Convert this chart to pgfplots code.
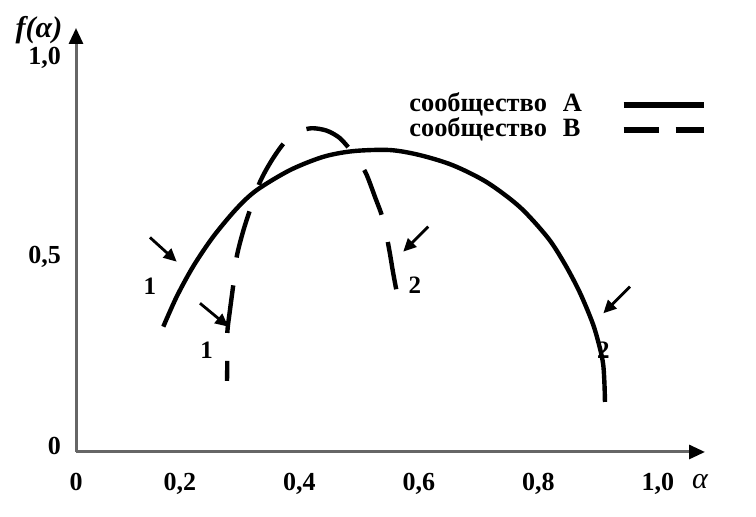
\documentclass[border=0pt]{standalone}
\usepackage{fontspec}
\setmainfont{Liberation Serif}
\usepackage{pgfplots}
\pgfplotsset{compat=1.18}
\usetikzlibrary{arrows.meta}

\begin{document}
\begin{tikzpicture}
\path[use as bounding box] (0,0) rectangle (378pt,258.5pt);
\begin{axis}[
  at={(38pt,32.5pt)}, anchor=south west,
  scale only axis, width=314.5pt, height=212pt,
  xmin=0.026, xmax=1.0787, ymin=0, ymax=1.087,
  axis lines=left,
  axis line style={black!60, line width=1.5pt, -{Triangle[length=8pt,width=7pt,color=black]}},
  major tick length=0pt,
  xtick={0.026,0.2,0.4,0.6,0.8,1.0},
  xticklabels={0,{0,2},{0,4},{0,6},{0,8},{1,0}},
  ytick={0.015,0.5,1.01},
  yticklabels={0,{0,5},{1,0}},
  tick label style={font=\fontsize{13}{15}\selectfont\bfseries},
  xticklabel style={yshift=-7pt},
  yticklabel style={xshift=-4pt},
  clip=false,
  legend plot pos=right,
  legend cell align=left,
  legend image code/.code={\draw[#1] (0pt,0pt) -- (40pt,0pt);},
  legend style={at={(axis cs:0.5732,0.932)}, anchor=north west, draw=none, fill=none,
    font=\fontsize{13.2}{15}\selectfont\bfseries,
    nodes={inner sep=0pt, text height=9.3pt, text depth=3pt},
    row sep=0pt, column sep=19.5pt},
]
% community A
\addplot[line width=2.2pt, smooth, forget plot] coordinates {
(0.1721,0.3213) (0.1945,0.3982) (0.2223,0.4762) (0.2557,0.5521) (0.2949,0.6241)
(0.3284,0.6713) (0.3841,0.7226) (0.4398,0.7567) (0.4900,0.7713) (0.5515,0.7741)
(0.6017,0.7610) (0.6569,0.7349) (0.7138,0.6913) (0.7690,0.6277) (0.8159,0.5487)
(0.8444,0.4810) (0.8695,0.4079) (0.8912,0.3279) (0.9029,0.2656) (0.9084,0.2233)
(0.9105,0.1718) (0.9113,0.1282)
};
% community B
\addplot[line width=2.2pt, smooth, dash pattern=on 24pt off 14pt, dash phase=14pt, forget plot] coordinates {
(0.2787,0.1821) (0.2792,0.2282) (0.2792,0.3051) (0.2837,0.3641) (0.2892,0.4282)
(0.2949,0.5000) (0.3054,0.5641) (0.3172,0.6205) (0.3339,0.6923) (0.3540,0.7487)
(0.3757,0.7949) (0.3975,0.8205) (0.4204,0.8300) (0.4456,0.8238) (0.4678,0.8044)
(0.4879,0.7692) (0.5013,0.7410) (0.5125,0.7103) (0.5264,0.6538) (0.5402,0.5949)
(0.5503,0.5179) (0.5565,0.4615) (0.5637,0.4026)
};
\addlegendimage{line width=2.8pt}
\addlegendentry{сообщество\hspace{0.6em}A}
\addlegendimage{line width=2.8pt, dash pattern=on 17.5pt off 8.5pt}
\addlegendentry{сообщество\hspace{0.6em}B}
% annotations
\begin{scope}[line width=1.4pt, -{Triangle[length=6.5pt,width=6pt]}]
\draw (axis cs:0.1498,0.5500) -- (axis cs:0.1945,0.4879);
\draw (axis cs:0.2335,0.3813) -- (axis cs:0.2808,0.3213);
\draw (axis cs:0.6155,0.5777) -- (axis cs:0.5737,0.5136);
\draw (axis cs:0.9531,0.4238) -- (axis cs:0.9085,0.3556);
\end{scope}
\begin{scope}[every node/.style={font=\fontsize{12.5}{14}\selectfont\bfseries}]
\node at (axis cs:0.1498,0.4238) {1};
\node at (axis cs:0.2447,0.2615) {1};
\node at (axis cs:0.5933,0.4282) {2};
\node at (axis cs:0.9085,0.2615) {2};
\end{scope}
\end{axis}
\node[font=\fontsize{15}{17}\selectfont\bfseries\itshape] at (19.5pt,243.5pt) {f(α)};
\node[font=\fontsize{15}{17}\selectfont\itshape] at (350pt,17.5pt) {α};
\end{tikzpicture}
\end{document}
